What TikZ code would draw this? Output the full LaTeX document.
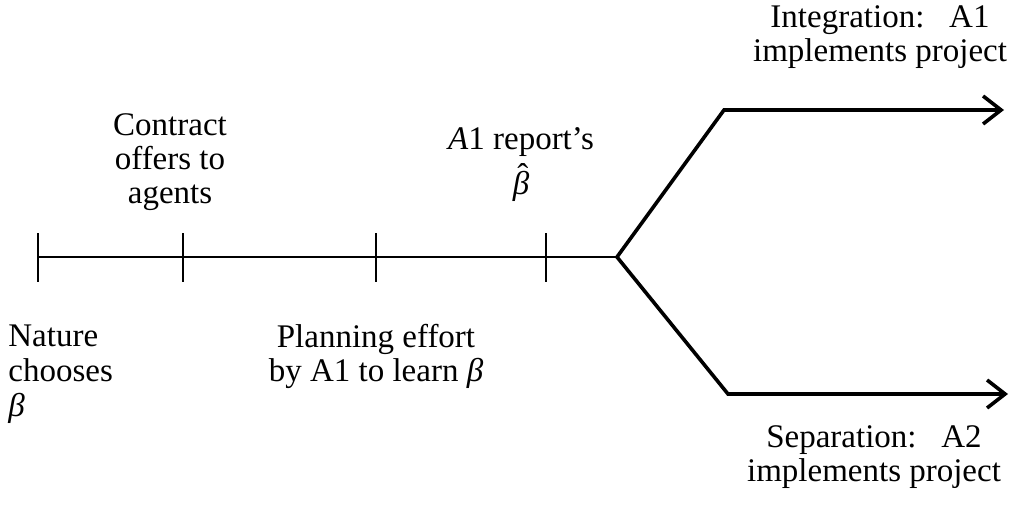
\documentclass[tikz,border=0pt]{standalone}
\usepackage{fontspec}
\setmainfont{Liberation Serif}
\usetikzlibrary{arrows.meta}

\newcommand{\hatbeta}{\ooalign{\itshape β\cr\hidewidth\kern0.12em\raisebox{0.24em}{\char"02C6}\hidewidth\cr}}

\begin{document}
\begin{tikzpicture}[x=0.5pt, y=-0.5pt,
        every node/.style={inner sep=0pt, font=\fontsize{16.5}{17}\selectfont},
        tick/.style={line width=1pt},
        branch/.style={line width=1.8pt, {Straight Barb[length=9pt, width=14pt]}-{Straight Barb[length=9pt, width=14pt]}}]
        \useasboundingbox (0,0) rectangle (1014,514);

        % Points on the time line (y = 257)
        \coordinate (t1) at (38,257);
        \coordinate (t2) at (183,257);
        \coordinate (t2e) at (232,257);
        \coordinate (t3) at (376,257);
        \coordinate (t4) at (546,257);
        \coordinate (fork) at (617,257);

        \draw[line width=0.8pt] (t1) -- (fork);
        \draw[line width=1.3pt] (t2) -- (t2e);
        \foreach \t in {t1,t2,t3,t4}
            \draw[tick] ([yshift=12pt]\t) -- ([yshift=-12.5pt]\t);

        % The two outcomes after the report
        \coordinate (up) at (724,110);
        \coordinate (upend) at (1004,110);
        \coordinate (dn) at (728,394);
        \coordinate (dnend) at (1008,394);
        \draw[branch] (upend) -- (up) -- (fork) -- (dn) -- (dnend);

        % Labels above the line
        \node[align=center, anchor=north] (contract) at (170,113) {Contract\\offers to\\agents};
        \node[align=center, anchor=north, font=\fontsize{16.5}{22.5}\selectfont] (report) at (521,127) {\textit{A}1 report's\\\hatbeta};
        \node[align=center, anchor=north] (integration) at (880,5) {Integration:\ \ \ A1\\implements project};

        % Labels below the line
        \node[align=left, anchor=north west, font=\fontsize{16.5}{17.5}\selectfont] (nature) at (8,324) {Nature\\chooses\\\textit{β}};
        \node[align=center, anchor=north] (planning) at (376,324) {Planning effort\\by A1 to learn \textit{β}};
        \node[align=center, anchor=north] (separation) at (874,425) {Separation:\ \ \ A2\\implements project};
    \end{tikzpicture}
\end{document}
